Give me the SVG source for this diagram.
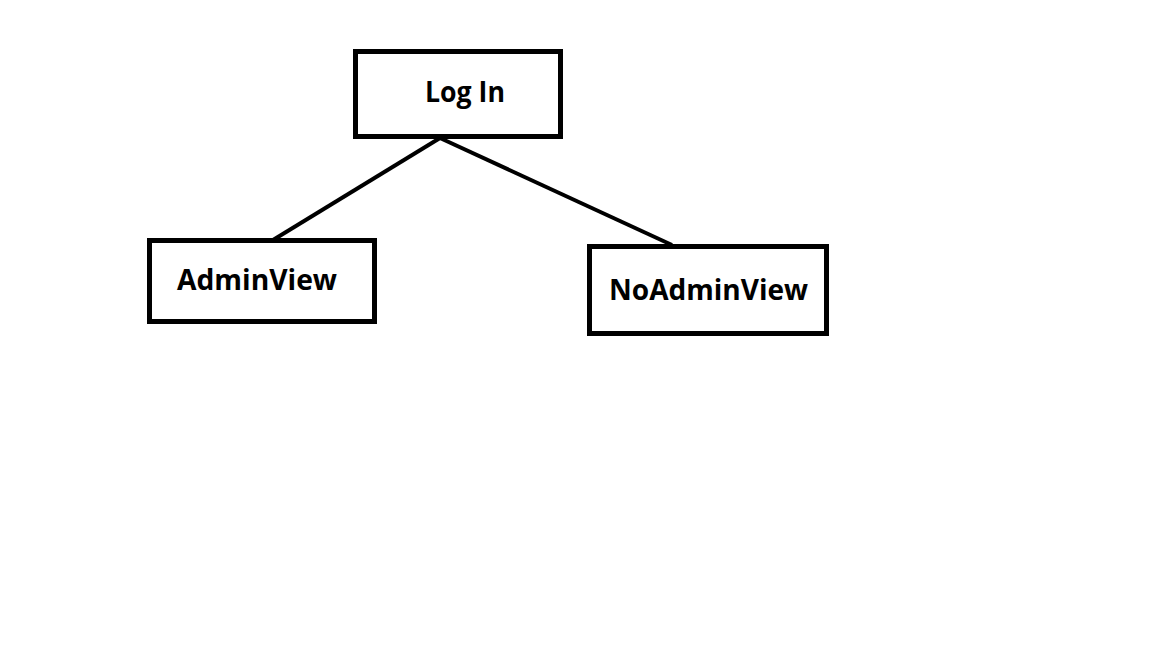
<svg xmlns="http://www.w3.org/2000/svg" width="1152" height="648" viewBox="0 0 1152 648">
<style>
.box{fill:#fff;stroke:#000;stroke-width:5}
.lbl{font-family:"Open Sans","Liberation Sans",sans-serif;font-weight:bold;font-size:29px;fill:#000}
.conn{stroke:#000;stroke-width:4;fill:none}
</style>
<rect width="1152" height="648" fill="#fff"/>
<g id="connectors">
<line class="conn" x1="440" y1="138" x2="273" y2="240"/>
<line class="conn" x1="440" y1="138" x2="672" y2="245"/>
</g>
<g id="login">
<rect class="box" x="355.5" y="51.5" width="205" height="85"/>
<text class="lbl" x="425" y="102" textLength="80" lengthAdjust="spacingAndGlyphs">Log In</text>
</g>
<g id="adminview">
<rect class="box" x="149.5" y="240.5" width="225" height="81"/>
<text class="lbl" x="177" y="290" textLength="160" lengthAdjust="spacingAndGlyphs">AdminView</text>
</g>
<g id="noadminview">
<rect class="box" x="589.5" y="246.5" width="237" height="87"/>
<text class="lbl" x="609" y="300" textLength="199" lengthAdjust="spacingAndGlyphs">NoAdminView</text>
</g>
</svg>
